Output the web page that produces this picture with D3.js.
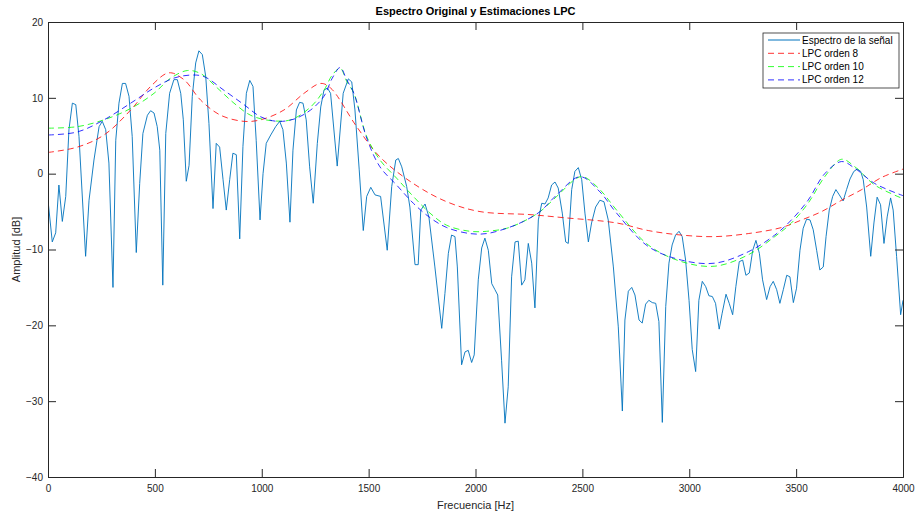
<!DOCTYPE html>
<html>
<head>
<meta charset="utf-8">
<script src="https://cdn.jsdelivr.net/npm/d3@7"></script>
<style>
html,body{margin:0;padding:0;background:#fff;}
svg{display:block;font-family:"Liberation Sans",Arial,Helvetica,sans-serif;}
</style>
</head>
<body>
<svg id="chart" width="920" height="518"></svg>
<script>
// ---- Data ----
const specHz = [0,20,36,51,67,83,98,114,130,145,176,192,215,239,254,270,285,304,317,332,348,363,379,394,413,429,444,465,480,496,511,523,537,551,569,589,605,621,633,647,660,675,691,706,722,738,753,772,787,803,819,834,850,865,881,897,912,928,944,959,974,992,1006,1021,1042,1065,1084,1099,1115,1132,1146,1162,1177,1193,1208,1224,1241,1260,1276,1291,1307,1322,1353,1381,1405,1421,1436,1456,1475,1491,1510,1530,1556,1587,1608,1627,1639,1655,1678,1693,1717,1732,1744,1764,1782,1810,1842,1857,1873,1888,1904,1915,1935,1951,1966,1982,1994,2013,2029,2044,2060,2076,2091,2104,2122,2138,2153,2169,2185,2200,2216,2231,2247,2263,2278,2294,2310,2325,2340,2356,2372,2387,2406,2422,2434,2450,2465,2481,2497,2512,2528,2543,2562,2582,2601,2621,2645,2668,2687,2699,2715,2731,2746,2765,2780,2796,2811,2827,2843,2858,2874,2890,2905,2920,2936,2952,2967,2983,2999,3014,3030,3045,3061,3077,3092,3108,3123,3140,3154,3172,3187,3203,3218,3234,3250,3265,3281,3297,3312,3328,3343,3362,3378,3393,3409,3424,3440,3456,3471,3487,3502,3518,3533,3549,3565,3580,3596,3611,3627,3640,3655,3671,3686,3702,3720,3736,3752,3770,3786,3802,3814,3830,3849,3864,3879,3895,3911,3926,3942,3954,3970,3989,4000];
const specDb = [-3.5,-9.0,-7.8,-1.5,-6.3,-3.0,5.8,9.3,9.1,4.9,-10.9,-3.5,1.8,6.2,6.9,5.8,1.4,-15.0,4.4,9.3,11.9,11.9,10.2,4.9,-10.4,-1.3,5.3,7.7,8.3,8.0,6.2,3.1,-14.7,5.3,10.6,12.4,12.4,10.6,7.1,-1.0,1.1,10.2,14.6,16.2,15.7,12.8,6.6,-4.6,4.0,3.5,-0.8,-4.8,-0.8,2.7,2.5,-8.6,3.6,10.6,12.3,11.5,4.4,-6.1,0.0,4.0,5.1,6.2,6.9,5.8,1.4,-6.4,3.1,8.4,9.4,9.3,7.1,0.9,-3.9,4.0,8.8,11.0,11.3,10.6,1.0,10.6,12.5,12.1,8.4,0.5,-7.5,-3.0,-1.8,-2.8,-3.0,-10.1,-1.7,1.8,2.0,0.9,-1.7,-4.4,-12.0,-12.0,-4.8,-4.0,-5.7,-12.3,-20.4,-15.8,-10.5,-8.1,-8.3,-12.3,-25.2,-23.5,-23.3,-24.9,-23.9,-14.0,-9.8,-8.5,-10.1,-14.5,-15.3,-16.0,-24.6,-32.9,-28.1,-13.6,-9.0,-8.9,-14.7,-14.0,-9.2,-11.8,-17.7,-6.1,-3.9,-4.0,-3.2,-1.5,-1.1,-1.9,-5.2,-9.0,-9.2,-2.1,0.3,0.8,-0.8,-5.2,-9.0,-6.5,-4.4,-3.5,-3.7,-6.1,-12.3,-20.2,-31.3,-19.3,-15.5,-15.0,-16.0,-19.3,-19.7,-17.2,-16.7,-17.0,-17.1,-19.5,-32.8,-17.5,-11.8,-9.4,-8.1,-7.6,-8.3,-11.4,-16.7,-23.2,-26.1,-16.7,-14.2,-14.9,-16.1,-16.2,-17.1,-20.5,-18.4,-15.9,-17.1,-18.6,-14.9,-11.6,-11.4,-13.4,-13.1,-10.1,-8.8,-10.5,-14.0,-16.6,-14.9,-14.2,-15.3,-17.1,-15.3,-13.4,-13.6,-17.0,-15.1,-10.1,-7.2,-6.0,-6.1,-7.4,-10.1,-12.7,-12.3,-8.3,-4.8,-3.0,-2.1,-2.8,-3.6,-2.1,-0.7,0.3,0.6,0.3,-0.8,-4.4,-10.9,-6.5,-3.1,-4.1,-9.2,-5.7,-3.2,-4.8,-10.9,-18.6,-16.7];

const lpc8Hz = [0,137,262,387,480,566,636,714,808,917,995,1104,1198,1276,1322,1444,1553,1709,1865,2021,2255,2411,2660,2808,2964,3120,3276,3432,3526,3619,3713,3807,3900,4000];
const lpc8Db = [2.8,3.5,5.1,8.4,11.5,13.3,12.4,9.7,7.7,6.9,7.1,8.4,10.6,11.9,11.3,6.2,2.2,-1.3,-3.7,-5.0,-5.4,-5.8,-6.5,-7.5,-8.1,-8.3,-7.9,-7.1,-6.1,-5.0,-3.5,-2.1,-0.5,0.6];

const lpc10Hz = [0,137,262,387,496,574,652,714,792,870,948,1042,1135,1229,1291,1330,1367,1397,1431,1491,1553,1631,1709,1787,1865,1974,2052,2146,2224,2302,2380,2473,2505,2582,2660,2808,2964,3120,3276,3400,3478,3556,3634,3713,3775,3868,4000];
const lpc10Db = [6.0,6.2,7.1,8.6,10.6,12.6,13.6,13.2,11.3,9.3,7.7,7.0,7.1,8.8,11.0,13.0,13.9,12.2,10.6,4.9,1.8,-0.6,-3.0,-5.2,-6.8,-7.6,-7.6,-7.2,-6.3,-5.0,-3.0,-0.6,-0.4,-2.1,-4.8,-9.4,-11.6,-12.2,-10.7,-8.3,-6.5,-3.9,-0.4,1.9,0.9,-1.5,-3.3];

const lpc12Hz = [0,137,262,387,496,589,667,730,823,917,995,1073,1151,1229,1291,1330,1367,1397,1431,1491,1553,1631,1709,1787,1865,1974,2052,2146,2224,2302,2380,2490,2582,2660,2808,2964,3120,3276,3400,3478,3556,3634,3713,3775,3868,4000];
const lpc12Db = [5.1,5.5,7.1,9.3,11.3,12.6,13.0,12.8,11.0,9.1,7.5,6.9,7.2,8.4,10.2,12.6,14.0,12.4,10.6,4.7,0.9,-1.5,-3.9,-5.8,-7.1,-7.9,-7.9,-7.2,-6.3,-5.0,-2.8,-0.4,-2.4,-5.2,-9.6,-11.4,-11.8,-10.3,-8.1,-6.1,-3.5,0.0,1.6,0.7,-1.3,-2.9];

const xTicks = [0,500,1000,1500,2000,2500,3000,3500,4000];
const yTicks = [-40,-30,-20,-10,0,10,20];
const legendLabels = ["Espectro de la señal","LPC orden 8","LPC orden 10","LPC orden 12"];
const titleText = "Espectro Original y Estimaciones LPC";
const xLabel = "Frecuencia [Hz]";
const yLabel = "Amplitud [dB]";

// ---- Layout ----
const L = 48, R = 903, T = 22, B = 477;
const svg = d3.select("#chart");
const x = d3.scaleLinear().domain([0,4000]).range([L,R]);
const y = d3.scaleLinear().domain([-40,20]).range([B,T]);
const axisColor = "#262626";

svg.append("rect").attr("width",920).attr("height",518).attr("fill","#fff");
svg.append("rect").attr("x",L).attr("y",T).attr("width",R-L).attr("height",B-T).attr("fill","#fff");

svg.append("clipPath").attr("id","clip").append("rect")
  .attr("x",L).attr("y",T).attr("width",R-L).attr("height",B-T);

const g = svg.append("g").attr("clip-path","url(#clip)");

function series(hz, db){ return hz.map((h,i)=>[h,db[i]]); }

const lineStraight = d3.line().x(d=>x(d[0])).y(d=>y(d[1]));
const lineSmooth = d3.line().x(d=>x(d[0])).y(d=>y(d[1])).curve(d3.curveCatmullRom.alpha(0.5));

g.append("path").datum(series(specHz,specDb)).attr("d",lineStraight)
  .attr("fill","none").attr("stroke","#0072BD").attr("stroke-width",1).attr("stroke-linejoin","round")
  .attr("opacity",0.9);

const lpcStyles = [
  {hz:lpc8Hz, db:lpc8Db, color:"#ff0000"},
  {hz:lpc10Hz, db:lpc10Db, color:"#00ff00"},
  {hz:lpc12Hz, db:lpc12Db, color:"#0000ff"}
];
lpcStyles.forEach(s=>{
  g.append("path").datum(series(s.hz,s.db)).attr("d",lineSmooth)
    .attr("fill","none").attr("stroke",s.color).attr("stroke-width",1)
    .attr("stroke-dasharray","6,4").attr("opacity",0.8);
});

// ---- Axes ----
const tickLen = 8;
const axB = svg.append("g").attr("transform",`translate(0,${B})`)
  .call(d3.axisBottom(x).tickValues(xTicks).tickSize(-tickLen).tickPadding(6).tickFormat(d3.format("d")));
const axT = svg.append("g").attr("transform",`translate(0,${T})`)
  .call(d3.axisTop(x).tickValues(xTicks).tickSize(-tickLen).tickFormat(""));
const axL = svg.append("g").attr("transform",`translate(${L},0)`)
  .call(d3.axisLeft(y).tickValues(yTicks).tickSize(-tickLen).tickPadding(5).tickFormat(d3.format("d")));
const axR = svg.append("g").attr("transform",`translate(${R},0)`)
  .call(d3.axisRight(y).tickValues(yTicks).tickSize(-tickLen).tickFormat(""));
[axB,axT,axL,axR].forEach(a=>{
  a.select(".domain").attr("stroke",axisColor).attr("stroke-width",1);
  a.selectAll(".tick line").attr("stroke",axisColor);
  a.selectAll("text").attr("fill",axisColor).attr("font-size",10)
    .attr("font-family","'Liberation Sans',Arial,sans-serif");
});
axB.selectAll(".tick text").attr("dy","0.9em");

// ---- Titles ----
svg.append("text").attr("x",(L+R)/2).attr("y",15).attr("text-anchor","middle")
  .attr("font-size",11).attr("font-weight","bold").attr("fill","#000").text(titleText);
svg.append("text").attr("x",(L+R)/2).attr("y",509).attr("text-anchor","middle")
  .attr("font-size",11).attr("fill",axisColor).text(xLabel);
svg.append("text").attr("transform",`translate(20,${(T+B)/2}) rotate(-90)`).attr("text-anchor","middle")
  .attr("font-size",11).attr("fill",axisColor).text(yLabel);

// ---- Legend ----
const lg = svg.append("g");
const lx = 763, ly = 33, lw = 136, lh = 55;
lg.append("rect").attr("x",lx).attr("y",ly).attr("width",lw).attr("height",lh)
  .attr("fill","#fff").attr("stroke",axisColor).attr("stroke-width",0.8);
const legColors = ["#0072BD","#ff0000","#00ff00","#0000ff"];
legendLabels.forEach((lab,i)=>{
  const yy = ly + 7 + i*13.3;
  lg.append("line").attr("x1",lx+5).attr("x2",lx+37).attr("y1",yy).attr("y2",yy)
    .attr("stroke",legColors[i]).attr("stroke-width",1)
    .attr("stroke-dasharray", i===0 ? null : "6,4").attr("opacity", i===0?1:0.8);
  lg.append("text").attr("x",lx+39).attr("y",yy).attr("dy","0.35em")
    .attr("font-size",10).attr("fill","#000").text(lab);
});
</script>
</body>
</html>
